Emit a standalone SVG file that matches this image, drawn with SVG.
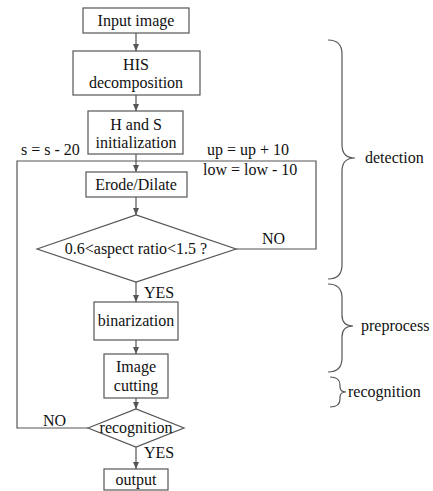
<svg xmlns="http://www.w3.org/2000/svg" width="433" height="491" viewBox="0 0 433 491" font-family="Liberation Serif, DejaVu Serif, serif" font-size="16">
  <style>
    .box { fill: #ffffff; stroke: #555555; stroke-width: 1.2; }
    .ln { fill: none; stroke: #555555; stroke-width: 1.2; }
    .br { fill: none; stroke: #555555; stroke-width: 1.2; }
    .t { fill: #111111; }
    .c { text-anchor: middle; }
  </style>
  <defs>
    <marker id="arrow" markerWidth="8" markerHeight="8" refX="7" refY="4" orient="auto" markerUnits="userSpaceOnUse">
      <path d="M0,1 L7,4 L0,7 Z" fill="#555555"/>
    </marker>
  </defs>
  <rect width="433" height="491" fill="#ffffff"/>

  <!-- connectors -->
  <g id="connectors">
    <line class="ln" x1="136" y1="33" x2="136" y2="51" marker-end="url(#arrow)"/>
    <line class="ln" x1="136" y1="95" x2="136" y2="111" marker-end="url(#arrow)"/>
    <line class="ln" x1="136" y1="154" x2="136" y2="172" marker-end="url(#arrow)"/>
    <line class="ln" x1="136" y1="197" x2="136" y2="215" marker-end="url(#arrow)"/>
    <!-- NO branch of aspect-ratio test, back to Erode/Dilate -->
    <polyline class="ln" points="236,249 316,249 316,161 136,161"/>
    <line class="ln" x1="136" y1="282" x2="136" y2="302" marker-end="url(#arrow)"/>
    <line class="ln" x1="136" y1="340" x2="136" y2="354" marker-end="url(#arrow)"/>
    <line class="ln" x1="136" y1="398" x2="136" y2="409" marker-end="url(#arrow)"/>
    <!-- NO branch of recognition, back to Erode/Dilate -->
    <polyline class="ln" points="88,428 17,428 17,161 136,161"/>
    <line class="ln" x1="136" y1="447" x2="136" y2="469" marker-end="url(#arrow)"/>
    <text class="t" x="21" y="155">s = s - 20</text>
    <text class="t" x="207" y="155">up = up + 10</text>
    <text class="t" x="203" y="175">low = low - 10</text>
    <text class="t" x="262" y="244">NO</text>
    <text class="t" x="144" y="298">YES</text>
    <text class="t" x="43" y="426">NO</text>
    <text class="t" x="144" y="458">YES</text>
  </g>

  <g id="input">
    <rect class="box" x="83" y="8" width="106" height="25"/>
    <text class="t c" x="136" y="26">Input image</text>
  </g>
  <g id="his">
    <rect class="box" x="73" y="51" width="127" height="44"/>
    <text class="t c" x="136" y="70">HIS</text>
    <text class="t c" x="136" y="88">decomposition</text>
  </g>
  <g id="hs-init">
    <rect class="box" x="88" y="111" width="95" height="43"/>
    <text class="t c" x="136" y="130">H and S</text>
    <text class="t c" x="136" y="148">initialization</text>
  </g>
  <g id="erode">
    <rect class="box" x="86" y="172" width="101" height="25"/>
    <text class="t c" x="136" y="190">Erode/Dilate</text>
  </g>
  <g id="aspect">
    <polygon class="box" points="37,249 136,215 236,249 136,282"/>
    <text class="t c" x="136" y="254">0.6&lt;aspect ratio&lt;1.5 ?</text>
  </g>
  <g id="binarization">
    <rect class="box" x="94" y="302" width="84" height="38"/>
    <text class="t c" x="136" y="326">binarization</text>
  </g>
  <g id="cutting">
    <rect class="box" x="104" y="354" width="64" height="44"/>
    <text class="t c" x="136" y="372">Image</text>
    <text class="t c" x="136" y="391">cutting</text>
  </g>
  <g id="recognition">
    <polygon class="box" points="88,428 136,409 184,428 136,447"/>
    <text class="t c" x="136" y="433">recognition</text>
  </g>
  <g id="output">
    <rect class="box" x="104" y="469" width="64" height="21"/>
    <text class="t c" x="136" y="485">output</text>
  </g>

  <!-- stage braces -->
  <g id="stage-detection">
    <path class="br" d="M328,40 Q342,40 342,54 L342,145 Q342,158 355,158 Q342,158 342,171 L342,265 Q342,279 328,279"/>
    <text class="t" x="365" y="163">detection</text>
  </g>
  <g id="stage-preprocess">
    <path class="br" d="M328,284 Q342,284 342,298 L342,315 Q342,326 353,326 Q342,326 342,337 L342,358 Q342,372 328,372"/>
    <text class="t" x="361" y="331">preprocess</text>
  </g>
  <g id="stage-recognition">
    <path class="br" d="M330,377 Q340,377 340,385 L340,387 Q340,392 346,392 Q340,392 340,397 L340,399 Q340,407 330,407"/>
    <text class="t" x="348" y="397">recognition</text>
  </g>
</svg>
